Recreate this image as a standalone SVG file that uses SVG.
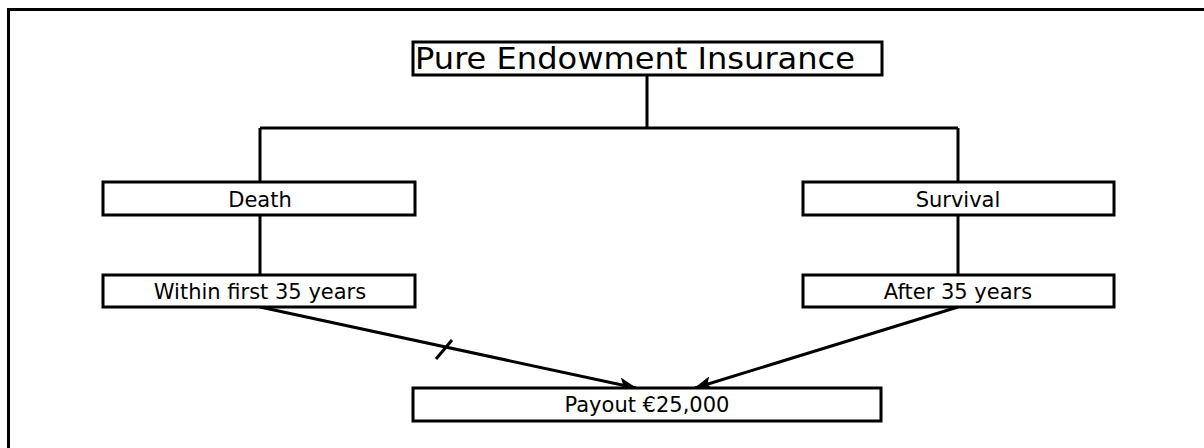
<svg xmlns="http://www.w3.org/2000/svg" width="1204" height="448" viewBox="0 0 1204 448">
<style>
.box{fill:#fff;stroke:#000;stroke-width:3}
.ln{fill:none;stroke:#000;stroke-width:3}
.t{font-family:"DejaVu Sans",Verdana,sans-serif;font-size:21px;fill:#000;text-anchor:middle}
</style>
<defs>
<marker id="ah" viewBox="0 0 18 14" refX="17" refY="7" markerWidth="18" markerHeight="14" markerUnits="userSpaceOnUse" orient="auto">
<path d="M0,0 L18,7 L0,14 L4,7 Z" fill="#000"/>
</marker>
</defs>
<rect width="1204" height="448" fill="#fff"/>
<path class="ln" d="M8.5,460 V9.5 H1210"/>
<g id="connectors">
<path class="ln" d="M647,75 V128 M260,128 H958 M260,128 V183 M958,128 V183"/>
<path class="ln" d="M260,215 V275 M958,215 V275"/>
<path class="ln" d="M260,307 L636,388" marker-end="url(#ah)"/>
<path class="ln" d="M958,307 L695,388" marker-end="url(#ah)"/>
<path class="ln" d="M452,340 L436,359"/>
</g>
<g id="title">
<rect class="box" x="413" y="42" width="469" height="33"/>
<text x="415" y="69" font-family="DejaVu Sans,Verdana,sans-serif" font-size="30" textLength="440" lengthAdjust="spacingAndGlyphs">Pure Endowment Insurance</text>
</g>
<g id="death">
<rect class="box" x="103" y="182" width="312" height="33"/>
<text class="t" x="260" y="207">Death</text>
</g>
<g id="survival">
<rect class="box" x="803" y="182" width="311" height="33"/>
<text class="t" x="958" y="207">Survival</text>
</g>
<g id="within">
<rect class="box" x="103" y="275" width="312" height="32"/>
<text class="t" x="260" y="299">Within first 35 years</text>
</g>
<g id="after">
<rect class="box" x="803" y="275" width="311" height="32"/>
<text class="t" x="958" y="299">After 35 years</text>
</g>
<g id="payout">
<rect class="box" x="413" y="388" width="468" height="33"/>
<text class="t" x="647" y="412">Payout €25,000</text>
</g>
</svg>
